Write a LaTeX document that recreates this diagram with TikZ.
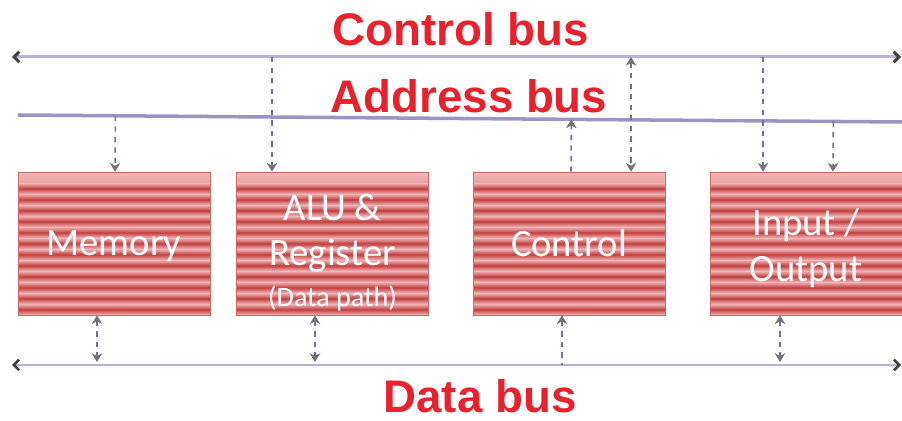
\documentclass[tikz,border=0pt]{standalone}
\usepackage{fontspec}
\setmainfont{Carlito}
\newfontfamily\busfont{Liberation Sans}
\usetikzlibrary{arrows.meta, calc}

\definecolor{boxlight}{RGB}{244,182,182}
\definecolor{boxdark}{RGB}{192,62,62}
\definecolor{boxedge}{RGB}{205,105,105}
\definecolor{busred}{RGB}{232,34,44}
\definecolor{buscol}{RGB}{186,176,216}
\definecolor{addrcol}{RGB}{158,148,196}
\definecolor{linkcol}{RGB}{120,106,162}

\tikzset{
  unit box/.style={minimum width=3.84cm, minimum height=2.86cm, inner sep=0pt,
    draw=boxedge, line width=0.4pt, fill=boxlight, align=center, text=white,
    font=\fontsize{22}{26}\selectfont,
    path picture={\foreach \k in {0,...,12}{
      \shade[top color=boxlight, bottom color=boxlight, middle color=boxdark]
        ($(path picture bounding box.north west)+(0,\k*11)$) rectangle ++(200,11);}}},
  bus label/.style={text=busred, inner sep=1pt, font=\busfont\bfseries\fontsize{26}{30}\selectfont},
  bus/.style={line width=1.7pt, color=buscol},
  bus ends/.style={arrows={Straight Barb[length=3pt, color=black!75]-Straight Barb[length=3pt, color=black!75]}},
  link/.style={dashed, line width=0.9pt, color=linkcol,
    >={Stealth[length=5pt, width=6pt, color=black!55]}},
}

\begin{document}
\begin{tikzpicture}[x=0.02cm, y=-0.02cm]
\useasboundingbox (0,0) rectangle (902,421);

%buses
\coordinate (cbusW) at (12,57);
\coordinate (cbusE) at (901,57);
\coordinate (abusW) at (18,115);
\coordinate (abusE) at (902,122);
\coordinate (dbusW) at (12,365);
\coordinate (dbusE) at (901,365);

\draw[bus, bus ends] (cbusW) -- (cbusE);
\draw[bus, line width=2pt, color=addrcol] (abusW) -- (abusE);
\draw[bus, bus ends, line width=1.5pt] (dbusW) -- (dbusE);

\node[bus label] (cbuslabel) at (461,29) {Control bus};
\node[bus label] (abuslabel) at (469,96) {Address bus};
\node[bus label] (dbuslabel) at (480,396) {Data bus};

%units
\node[unit box, text depth=0pt] (mem) at (114,243.5) {Memory};
\node[unit box] (alu) at (332.5,243.5) {\rule{0pt}{25pt}ALU \&\\Register\\[-3pt]{\fontsize{16}{18}\selectfont (Data path)}};
\node[unit box] (ctl) at (569,243.5) {Control};
\node[unit box] (io) at (806,243.5) {\rule{0pt}{21pt}Input /\\Output};

%address and control lines
\coordinate (a1) at ($(mem.north)+(1,0)$);
\coordinate (a2) at ($(alu.north)+(-60.5,0)$);
\coordinate (a3) at ($(ctl.north)+(2,0)$);
\coordinate (a4) at ($(ctl.north)+(62,0)$);
\coordinate (a5) at ($(io.north)+(-43,0)$);
\coordinate (a6) at ($(io.north)+(27,0)$);

\draw[link,->] ($(abusW)!(a1)!(abusE)$) -- (a1);
\draw[link,->] (a2 |- cbusW) -- (a2);
\draw[link,->] (a3) -- ($(abusW)!(a3)!(abusE)$);
\draw[link,<->] (a4 |- cbusW) -- (a4);
\draw[link,->] (a5 |- cbusW) -- (a5);
\draw[link,->] ($(abusW)!(a6)!(abusE)$) -- (a6);

%data lines
\coordinate (d1) at ($(mem.south)+(-17,0)$);
\coordinate (d2) at ($(alu.south)+(-17.5,0)$);
\coordinate (d3) at ($(ctl.south)+(-7,0)$);
\coordinate (d4) at ($(io.south)+(-26,0)$);

\draw[link,<->] (d1) -- ($(d1 |- dbusW)+(0,-3)$);
\draw[link,<->] (d2) -- ($(d2 |- dbusW)+(0,-3)$);
\draw[link,<-] (d3) -- (d3 |- dbusW);
\draw[link,<->] (d4) -- ($(d4 |- dbusW)+(0,-3)$);

\end{tikzpicture}
\end{document}
